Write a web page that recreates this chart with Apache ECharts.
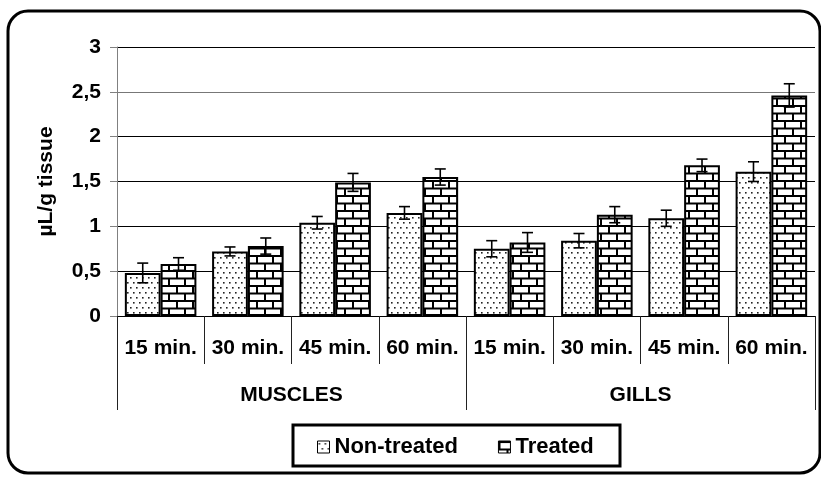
<!DOCTYPE html>
<html>
<head>
<meta charset="utf-8">
<script src="https://cdn.jsdelivr.net/npm/echarts@6/dist/echarts.min.js"></script>
<style>
  html, body { margin: 0; padding: 0; background: #fff; }
  #chart { width: 821px; height: 477px; }
</style>
</head>
<body>
<div id="chart"></div>
<script>
// data
var categories = ['15 min.', '30 min.', '45 min.', '60 min.', '15 min.', '30 min.', '45 min.', '60 min.'];
var groups = ['MUSCLES', 'GILLS'];
var nonTreated = [0.48, 0.72, 1.04, 1.15, 0.75, 0.84, 1.09, 1.61];
var treated = [0.58, 0.78, 1.49, 1.55, 0.82, 1.13, 1.68, 2.46];
var nonTreatedErr = [0.11, 0.05, 0.07, 0.07, 0.09, 0.08, 0.09, 0.11];
var treatedErr = [0.07, 0.09, 0.10, 0.09, 0.11, 0.09, 0.07, 0.13];
var yTicks = [0, 0.5, 1, 1.5, 2, 2.5, 3];

var FONT = '"Liberation Sans", Arial, sans-serif';

// fill patterns
function dotsPattern() {
    var c = document.createElement('canvas');
    c.width = 6; c.height = 10;
    var ctx = c.getContext('2d');
    ctx.fillStyle = '#fff';
    ctx.fillRect(0, 0, 6, 10);
    ctx.fillStyle = '#222';
    ctx.fillRect(1, 2, 1.6, 1.6);
    ctx.fillRect(4, 7, 1.6, 1.6);
    return c;
}
function brickPattern() {
    var c = document.createElement('canvas');
    c.width = 16; c.height = 15;
    var ctx = c.getContext('2d');
    ctx.fillStyle = '#000';
    ctx.fillRect(0, 0, 16, 15);
    ctx.fillStyle = '#fff';
    ctx.fillRect(2, 2, 14, 5.5);
    ctx.fillRect(10, 9.5, 6, 5.5);
    ctx.fillRect(0, 9.5, 8, 5.5);
    return c;
}

function errData(vals, errs) {
    return vals.map(function (v, i) { return [i, v, errs[i]]; });
}

function errRender(offset) {
    return function (params, api) {
        var x = api.value(0), v = api.value(1), e = api.value(2);
        var cw = api.size([1, 0])[0];
        var top = api.coord([x, v + e]);
        var bot = api.coord([x, v - e]);
        var cx = top[0] + offset * cw;
        var hw = 5.5;
        var st = { stroke: '#000', lineWidth: 1.6 };
        return {
            type: 'group',
            children: [
                { type: 'line', shape: { x1: cx, y1: top[1], x2: cx, y2: bot[1] }, style: st },
                { type: 'line', shape: { x1: cx - hw, y1: top[1], x2: cx + hw, y2: top[1] }, style: st },
                { type: 'line', shape: { x1: cx - hw, y1: bot[1], x2: cx + hw, y2: bot[1] }, style: st }
            ]
        };
    };
}

var chart = echarts.init(document.getElementById('chart'));

var option = {
    animation: false,
    backgroundColor: '#fff',
    textStyle: { fontFamily: FONT },
    grid: { left: 117, right: 6, top: 47, bottom: 161 },
    graphic: [
        {
            type: 'rect',
            shape: { x: 8, y: 11, width: 812, height: 462, r: 20 },
            style: { fill: 'none', stroke: '#000', lineWidth: 3 },
            z: 100
        },
        {
            type: 'rect',
            shape: { x: 293, y: 425, width: 327, height: 41 },
            style: { fill: 'none', stroke: '#000', lineWidth: 3 },
            z: 100
        }
    ],
    legend: {
        left: 312,
        top: 431,
        itemWidth: 12,
        itemHeight: 12,
        itemGap: 40,
        textStyle: { fontFamily: FONT, fontWeight: 'bold', fontSize: 22, color: '#000' },
        itemStyle: { borderWidth: 1, borderColor: '#000' },
        data: [
            { name: 'Non-treated', icon: 'rect' },
            { name: 'Treated', icon: 'rect' }
        ]
    },
    xAxis: [
        {
            type: 'category',
            data: categories,
            position: 'bottom',
            axisLine: { show: true, lineStyle: { color: '#000', width: 1 } },
            axisTick: { show: true, interval: 0, length: 48, lineStyle: { color: '#222' } },
            axisLabel: {
                interval: 0, margin: 22,
                fontFamily: FONT, fontWeight: 'bold', fontSize: 21, color: '#000'
            }
        },
        {
            type: 'category',
            data: groups,
            position: 'bottom',
            axisLine: { show: false },
            axisTick: { show: true, interval: 0, length: 94, lineStyle: { color: '#222' } },
            axisLabel: {
                interval: 0, margin: 69,
                fontFamily: FONT, fontWeight: 'bold', fontSize: 21, color: '#000'
            }
        }
    ],
    yAxis: {
        type: 'value',
        min: yTicks[0],
        max: yTicks[yTicks.length - 1],
        interval: 0.5,
        name: 'µL/g tissue',
        nameLocation: 'middle',
        nameGap: 60,
        nameTextStyle: { fontFamily: FONT, fontWeight: 'bold', fontSize: 21, color: '#000' },
        axisLine: { show: true, lineStyle: { color: '#808080', width: 1 } },
        axisTick: { show: true, length: 7, lineStyle: { color: '#808080' } },
        axisLabel: {
            margin: 16,
            fontFamily: FONT, fontWeight: 'bold', fontSize: 21, color: '#000',
            formatter: function (v) { return String(v).replace('.', ','); }
        },
        splitLine: {
            show: true,
            lineStyle: { color: ['#000', '#000', '#000', '#000', '#000', '#777', '#000'], width: 1 }
        }
    },
    series: [
        {
            name: 'Non-treated',
            type: 'bar',
            data: nonTreated,
            barGap: '0%',
            barCategoryGap: '18%',
            itemStyle: {
                color: { image: dotsPattern(), repeat: 'repeat' },
                borderColor: '#000',
                borderWidth: 2
            }
        },
        {
            name: 'Treated',
            type: 'bar',
            data: treated,
            barGap: '0%',
            barCategoryGap: '18%',
            itemStyle: {
                color: { image: brickPattern(), repeat: 'repeat' },
                borderColor: '#000',
                borderWidth: 2
            }
        },
        {
            type: 'custom',
            renderItem: errRender(-0.205),
            data: errData(nonTreated, nonTreatedErr),
            encode: { x: 0, y: 1 },
            z: 10,
            silent: true
        },
        {
            type: 'custom',
            renderItem: errRender(0.205),
            data: errData(treated, treatedErr),
            encode: { x: 0, y: 1 },
            z: 10,
            silent: true
        }
    ]
};

chart.setOption(option);
</script>
</body>
</html>
